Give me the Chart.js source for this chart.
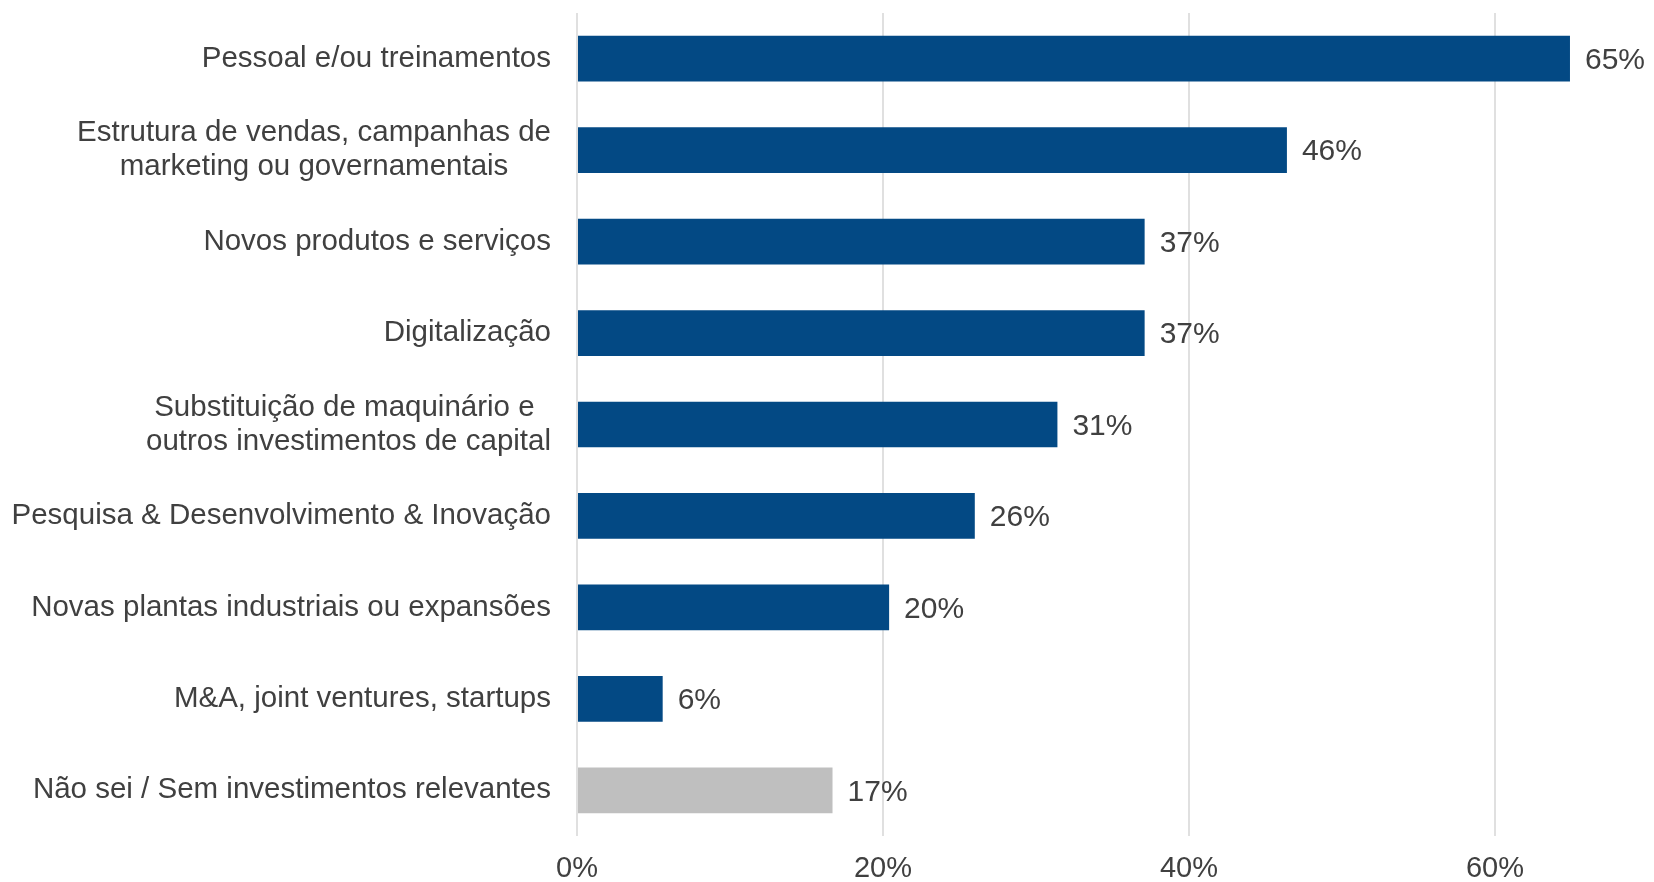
<!DOCTYPE html>
<html>
<head>
<meta charset="utf-8">
<script src="https://cdn.jsdelivr.net/npm/chart.js@4"></script>
<style>
  body { margin: 0; background: #fff; }
  #wrap { width: 1654px; height: 882px; }
</style>
</head>
<body>
<div id="wrap"><canvas id="myChart"></canvas></div>
<script>
// data
const categories = [
  'Pessoal e/ou treinamentos',
  ['Estrutura de vendas, campanhas de', 'marketing ou governamentais'],
  'Novos produtos e serviços',
  'Digitalização',
  ['Substituição de maquinário e ', 'outros investimentos de capital'],
  'Pesquisa & Desenvolvimento & Inovação',
  'Novas plantas industriais ou expansões',
  'M&A, joint ventures, startups',
  'Não sei / Sem investimentos relevantes'
];
const shares = [64.9, 46.4, 37.1, 37.1, 31.4, 26.0, 20.4, 5.6, 16.7];
const xTicks = [0, 20, 40, 60];

const blue = '#034984';
const grey = '#bfbfbf';
const textColor = '#404040';
const fontFamily = '"Liberation Sans", Arial, sans-serif';

// category labels: multi-line labels are centered on themselves, right edge fixed
const catLabels = {
  id: 'catLabels',
  afterDraw(chart) {
    const ctx = chart.ctx;
    const y = chart.scales.y;
    const right = chart.chartArea.left - 26;
    ctx.save();
    ctx.font = '29.5px ' + fontFamily;
    ctx.fillStyle = textColor;
    ctx.textAlign = 'center';
    ctx.textBaseline = 'middle';
    categories.forEach((lab, i) => {
      const lines = Array.isArray(lab) ? lab : [lab];
      const w = Math.max(...lines.map(l => ctx.measureText(l).width));
      const cx = right - w / 2;
      const lh = 34;
      const cy = y.getPixelForValue(i);
      lines.forEach((l, k) => {
        ctx.fillText(l, cx, cy + (k - (lines.length - 1) / 2) * lh);
      });
    });
    ctx.restore();
  }
};

// value labels at bar ends
const valueLabels = {
  id: 'valueLabels',
  afterDatasetsDraw(chart) {
    const ctx = chart.ctx;
    const meta = chart.getDatasetMeta(0);
    ctx.save();
    ctx.font = '30px ' + fontFamily;
    ctx.fillStyle = textColor;
    ctx.textAlign = 'left';
    ctx.textBaseline = 'middle';
    meta.data.forEach((bar, i) => {
      ctx.fillText(Math.round(shares[i]) + '%', bar.x + 15, bar.y + 2);
    });
    ctx.restore();
  }
};

const config = {
  type: 'bar',
  data: {
    labels: categories,
    datasets: [{
      data: shares,
      backgroundColor: shares.map((v, i) => i === shares.length - 1 ? grey : blue),
      borderWidth: 0,
      barPercentage: 0.5,
      categoryPercentage: 1
    }]
  },
  options: {
    indexAxis: 'y',
    responsive: true,
    maintainAspectRatio: false,
    animation: false,
    layout: { padding: { left: 569, top: 13, right: 6, bottom: 0 } },
    plugins: { legend: { display: false }, tooltip: { enabled: false } },
    scales: {
      x: {
        min: 0,
        max: 70,
        afterBuildTicks: axis => {
          axis.ticks = xTicks.map(v => ({ value: v }));
        },
        afterFit: axis => { axis.height = 46; },
        ticks: {
          callback: v => v + '%',
          color: textColor,
          font: { family: fontFamily, size: 29 },
          padding: 16,
          maxRotation: 0
        },
        grid: { color: '#e0e0e0', lineWidth: 2, drawTicks: false },
        border: { display: false }
      },
      y: {
        ticks: { display: false },
        grid: { display: false },
        border: { display: false }
      }
    }
  },
  plugins: [catLabels, valueLabels]
};

const myChart = new Chart(document.getElementById('myChart'), config);
</script>
</body>
</html>
